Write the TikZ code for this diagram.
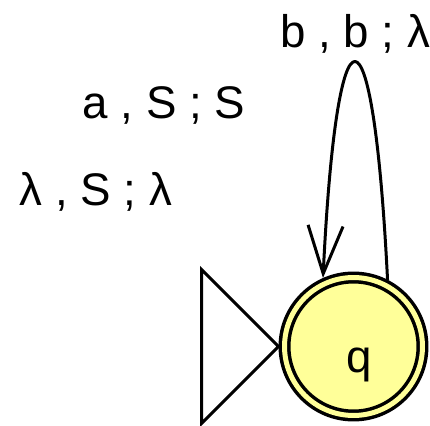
\documentclass[tikz,border=0pt]{standalone}
\usepackage{fontspec}
\setmainfont{Liberation Sans}
\usetikzlibrary{arrows.meta}
\definecolor{statefill}{RGB}{255,255,153}
\begin{document}
\begin{tikzpicture}[x=0.02cm,y=-0.02cm]
\tikzset{
  statenode/.style={circle,draw=black,line width=0.07cm,double=statefill,double distance=0.1cm,fill=statefill,minimum size=2.76cm,inner sep=0pt,outer sep=0.12cm},
  graphedge/.style={draw=black,line width=0.06cm,line cap=round,line join=round},
  directed/.style={graphedge,-{Straight Barb[length=0.96cm,width=0.7cm]}},
  startmark/.style={draw=black,line width=0.06cm,line join=miter},
  edgelabel/.style={anchor=base,inner sep=0pt,font=\fontsize{26}{30}\selectfont}
}
\useasboundingbox (0,0) rectangle (430,426);
\node[statenode] (q) at (353.5,346.5) {};
\node[edgelabel] (q_name) at (359,372) {q};
\draw[startmark] (q.west) -- ++(-77,-77) -- ++(0,154) -- cycle;
\draw[directed] (q.63) .. controls (373,-10) and (337,-10) .. (q.114);
\node[edgelabel] (l_bb) at (355,48) {b , b ; λ};
\node[edgelabel] (l_aS) at (164,118) {a , S ; S};
\node[edgelabel] (l_lS) at (96,205) {λ , S ; λ};
\end{tikzpicture}
\end{document}
